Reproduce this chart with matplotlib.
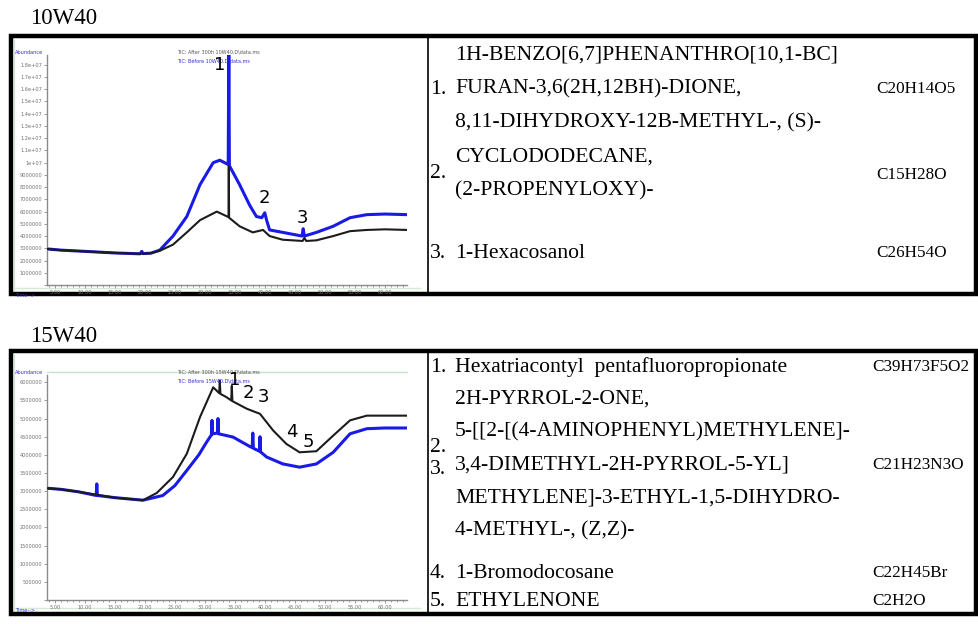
import matplotlib
matplotlib.use("Agg")
import matplotlib.pyplot as plt
from matplotlib.patches import Rectangle
from matplotlib.ticker import FuncFormatter, MultipleLocator

t_10_before = [3.7, 6, 10, 15, 19.2, 19.5, 19.7, 21, 22.5, 24.7, 27, 29.2, 31.4, 32.5,
               33.9, 34.0, 34.1, 35.8, 37.5, 38.6, 39.5, 40.0, 40.3, 40.8, 43, 46.2,
               46.4, 46.6, 48.6, 51.4, 54.2, 57, 60, 63.7]
a_10_before = [2.95e6, 2.85e6, 2.75e6, 2.62e6, 2.55e6, 2.75e6, 2.57e6, 2.6e6, 2.85e6,
               4.0e6, 5.6e6, 8.2e6, 10.0e6, 10.2e6, 9.85e6, 1.9e7, 9.75e6, 8.2e6, 6.5e6,
               5.6e6, 5.5e6, 5.9e6, 5.3e6, 4.5e6, 4.3e6, 4.0e6, 4.6e6, 4.0e6, 4.3e6,
               4.8e6, 5.5e6, 5.75e6, 5.8e6, 5.75e6]
t_10_after = [3.7, 6, 10, 15, 19.2, 21, 22.5, 24.7, 27, 29.2, 32, 33.95, 34.0, 34.05,
              35.8, 38, 39.7, 40.8, 43, 46.3, 46.6, 46.9, 48.6, 51.4, 54.2, 57, 60, 63.7]
a_10_after = [2.95e6, 2.85e6, 2.75e6, 2.62e6, 2.55e6, 2.6e6, 2.8e6, 3.3e6, 4.3e6, 5.3e6,
              6.0e6, 5.55e6, 9.7e6, 5.5e6, 4.8e6, 4.3e6, 4.5e6, 4.0e6, 3.7e6, 3.6e6,
              3.85e6, 3.6e6, 3.65e6, 4.0e6, 4.4e6, 4.5e6, 4.55e6, 4.5e6]

t_15_before = [3.7, 6, 9, 11.9, 12.0, 12.1, 15, 19.7, 23, 25, 27, 29, 30.3, 31.1, 31.2,
               31.3, 32.1, 32.2, 32.3, 34.7, 37.5, 37.9, 38.0, 38.1, 39.1, 39.2, 39.3,
               40.3, 43, 45.8, 48.6, 51.4, 54.2, 57, 60, 63.7]
a_15_before = [3.08e6, 3.05e6, 2.98e6, 2.88e6, 3.2e6, 2.88e6, 2.82e6, 2.75e6, 2.88e6,
               3.15e6, 3.57e6, 4.0e6, 4.35e6, 4.55e6, 4.95e6, 4.58e6, 4.6e6, 5.0e6,
               4.58e6, 4.49e6, 4.23e6, 4.2e6, 4.6e6, 4.18e6, 4.1e6, 4.5e6, 4.08e6,
               3.94e6, 3.75e6, 3.66e6, 3.75e6, 4.07e6, 4.58e6, 4.72e6, 4.74e6, 4.74e6]
t_15_after = [3.7, 6, 9, 15, 19.7, 22, 24.7, 27, 29.2, 31.4, 32.4, 32.5, 32.6, 33.6,
              34.4, 34.5, 34.6, 37, 39.2, 41.4, 43.6, 45.8, 48.6, 51.4, 54.2, 57, 60, 63.7]
a_15_after = [3.08e6, 3.05e6, 2.98e6, 2.82e6, 2.75e6, 2.95e6, 3.39e6, 4.03e6, 5.04e6,
              5.86e6, 5.7e6, 6.05e6, 5.68e6, 5.59e6, 5.5e6, 5.9e6, 5.48e6, 5.27e6,
              5.13e6, 4.67e6, 4.3e6, 4.07e6, 4.1e6, 4.53e6, 4.95e6, 5.08e6, 5.08e6, 5.08e6]

# etiquetas de picos (numero, tiempo, abundancia)
picos_10 = [("1", 32.5, 1.8e7), ("2", 40.0, 7.1e6), ("3", 46.3, 5.5e6)]
picos_15 = [("1", 35.0, 6.06e6), ("2", 37.2, 5.7e6), ("3", 39.7, 5.6e6),
            ("4", 44.5, 4.63e6), ("5", 47.3, 4.35e6)]

# tabla de compuestos identificados
tabla_10 = ["1H-BENZO[6,7]PHENANTHRO[10,1-BC]", "FURAN-3,6(2H,12BH)-DIONE,",
            "8,11-DIHYDROXY-12B-METHYL-, (S)-", "CYCLODODECANE,", "(2-PROPENYLOXY)-",
            "1-Hexacosanol"]
formulas_10 = ["C20H14O5", "C15H28O", "C26H54O"]
tabla_15 = ["Hexatriacontyl  pentafluoropropionate", "2H-PYRROL-2-ONE,",
            "5-[[2-[(4-AMINOPHENYL)METHYLENE]-", "3,4-DIMETHYL-2H-PYRROL-5-YL]",
            "METHYLENE]-3-ETHYL-1,5-DIHYDRO-", "4-METHYL-, (Z,Z)-",
            "1-Bromodocosane", "ETHYLENONE"]
formulas_15 = ["C39H73F5O2", "C21H23N3O", "C22H45Br", "C2H2O"]

W, H = 979, 624
fig = plt.figure(figsize=(W / 100, H / 100), dpi=100)

# capa de fondo en pixeles para marcos y textos
fondo = fig.add_axes([0, 0, 1, 1])
fondo.set_xlim(0, W)
fondo.set_ylim(H, 0)
fondo.axis('off')

serif = ['Liberation Serif', 'DejaVu Serif']

def marco(y0, y1):
    fondo.add_patch(Rectangle((11, y0), 965, y1 - y0, fill=False, lw=3.2, ec='black'))
    fondo.plot([428, 428], [y0, y1], color='black', lw=1.2)
    # borde verde claro de la captura del cromatograma
    fondo.plot([14, 14], [y0 + 4, y1 - 4], color='#d4ead4', lw=1)
    fondo.plot([14, 420], [y1 - 6, y1 - 6], color='#d4ead4', lw=1)

marco(36, 294)
marco(351, 614)
fondo.plot([47, 407], [372, 372], color='#c8e2c8', lw=1)

fondo.text(30, 19, "10W40", fontsize=16.5, family=serif, va='center')
fondo.text(30, 337, "15W40", fontsize=16.5, family=serif, va='center')

# textos de la tabla
fs, ff = 15.6, 12.3
fondo.text(455, 55, tabla_10[0], fontsize=fs, family=serif, va='center')
fondo.text(430, 89, "1.", fontsize=fs, family=serif, va='center')
fondo.text(455, 89, tabla_10[1], fontsize=fs, family=serif, va='center')
fondo.text(455, 123, tabla_10[2], fontsize=fs, family=serif, va='center')
fondo.text(455, 157, tabla_10[3], fontsize=fs, family=serif, va='center')
fondo.text(430, 174, "2.", fontsize=fs, family=serif, va='center')
fondo.text(455, 191, tabla_10[4], fontsize=fs, family=serif, va='center')
fondo.text(430, 253, "3.", fontsize=fs, family=serif, va='center')
fondo.text(455, 253, tabla_10[5], fontsize=fs, family=serif, va='center')
for f, y in zip(formulas_10, [89, 175, 253]):
    fondo.text(876, y, f, fontsize=ff, family=serif, va='center')

fondo.text(430, 367, "1.", fontsize=fs, family=serif, va='center')
for txt, y in zip(tabla_15, [367, 399, 432, 465, 498, 531, 573, 601]):
    fondo.text(455, y, txt, fontsize=fs, family=serif, va='center')
fondo.text(430, 447, "2.", fontsize=fs, family=serif, va='center')
fondo.text(430, 469, "3.", fontsize=fs, family=serif, va='center')
fondo.text(430, 573, "4.", fontsize=fs, family=serif, va='center')
fondo.text(430, 601, "5.", fontsize=fs, family=serif, va='center')
for f, y in zip(formulas_15, [367, 465, 573, 601]):
    fondo.text(872, y, f, fontsize=ff, family=serif, va='center')


def fmt_abund(v, pos):
    if v >= 1e7:
        s = f"{v / 1e7:.1f}".rstrip('0').rstrip('.')
        return f"{s}e+07"
    return f"{int(v)}"


def cromatograma(rect, ylim, ypaso, tb, ab, ta, aa, picos, leyenda):
    ax = fig.add_axes(rect)
    ax.plot(ta, aa, color='#1c1c1c', lw=1.5, zorder=3)
    ax.plot(tb, ab, color='#1a1ae6', lw=2.2, zorder=2)
    ax.set_xlim(3.7, 63.7)
    ax.set_ylim(0, ylim)
    ax.xaxis.set_major_locator(MultipleLocator(5))
    ax.xaxis.set_minor_locator(MultipleLocator(1))
    ax.yaxis.set_major_locator(MultipleLocator(ypaso))
    ax.xaxis.set_major_formatter(FuncFormatter(lambda v, p: f"{v:.2f}" if v >= 5 else ""))
    ax.yaxis.set_major_formatter(FuncFormatter(lambda v, p: fmt_abund(v, p) if v > 0 else ""))
    for s in ['top', 'right']:
        ax.spines[s].set_visible(False)
    for s in ['left', 'bottom']:
        ax.spines[s].set_color('#8a8a8a')
        ax.spines[s].set_linewidth(1)
    ax.tick_params(axis='both', which='both', labelsize=3.6, colors='#8a8a8a',
                   labelcolor='#707070', length=2, width=0.6, pad=1.5)
    ax.tick_params(axis='x', which='minor', length=1.5)
    for num, t, a in picos:
        ax.text(t, a, num, fontsize=13, ha='center', va='center', color='black',
                family='DejaVu Sans', zorder=5)
    ax.text(0.36, 1.0, leyenda[0], transform=ax.transAxes, fontsize=3.5, color='#555555',
            va='bottom')
    ax.text(0.36, 0.985, leyenda[1], transform=ax.transAxes, fontsize=3.5, color='#3030d0',
            va='top')
    ax.text(-0.09, 1.0, "Abundance", transform=ax.transAxes, fontsize=3.6, color='#3030d0',
            va='bottom')
    ax.text(-0.09, -0.035, "Time-->", transform=ax.transAxes, fontsize=3.6, color='#3030d0',
            va='top')
    return ax


cromatograma([47 / W, 1 - 285 / H, 360 / W, 230 / H], 1.88e7, 1e6,
             t_10_before, a_10_before, t_10_after, a_10_after, picos_10,
             ["TIC: After 300h 10W40.D\\data.ms", "TIC: Before 10W40.D\\data.ms"])
cromatograma([47 / W, 1 - 600 / H, 360 / W, 225 / H], 6.2e6, 5e5,
             t_15_before, a_15_before, t_15_after, a_15_after, picos_15,
             ["TIC: After 300h 15W40.D\\data.ms", "TIC: Before 15W40.D\\data.ms"])

fig.savefig("out.png", dpi=100)
